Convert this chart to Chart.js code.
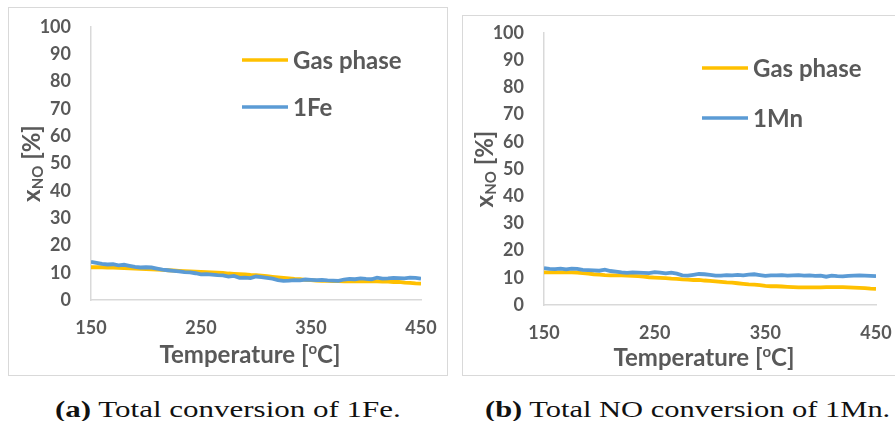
<!DOCTYPE html>
<html>
<head>
<meta charset="utf-8">
<script src="https://cdn.jsdelivr.net/npm/chart.js@4/dist/chart.umd.min.js"></script>
<style>
body { margin: 0; background: #fff; width: 895px; height: 421px; position: relative; overflow: hidden; }
.box { position: absolute; border: 1px solid #d9d9d9; box-sizing: border-box; }
#boxA { left: 8px; top: 7px; width: 440px; height: 369px; }
#boxB { left: 462px; top: 15px; width: 440px; height: 361px; }
canvas { position: absolute; }
.cap { position: absolute; top: 397px; font-family: "Liberation Serif", serif; font-size: 24px; line-height: 24px;
       color: #111; white-space: nowrap; transform-origin: 0 0; }
.cap b { font-weight: bold; }
</style>
</head>
<body>
<div class="box" id="boxA"></div>
<div class="box" id="boxB"></div>
<canvas id="chartA" width="437" height="366" style="left:9px;top:8px"></canvas>
<canvas id="chartB" width="432" height="358" style="left:463px;top:16px"></canvas>
<div class="cap" id="capA" style="left:55px"><b>(a)</b> Total conversion of 1Fe.</div>
<div class="cap" id="capB" style="left:485px"><b>(b)</b> Total NO conversion of 1Mn.</div>
<script>
// temperature [oC], sampled every 5 degrees
let temps = [150, 155, 160, 165, 170, 175, 180, 185, 190, 195,
             200, 205, 210, 215, 220, 225, 230, 235, 240, 245,
             250, 255, 260, 265, 270, 275, 280, 285, 290, 295,
             300, 305, 310, 315, 320, 325, 330, 335, 340, 345,
             350, 355, 360, 365, 370, 375, 380, 385, 390, 395,
             400, 405, 410, 415, 420, 425, 430, 435, 440, 445, 450];

// (a) gas phase vs 1Fe
let gasA = [12.0, 12.0, 12.0, 11.9, 11.9, 11.8, 11.7, 11.6, 11.5, 11.4,
            11.3, 11.2, 11.1, 11.0, 10.9, 10.8, 10.7, 10.6, 10.5, 10.4,
            10.3, 10.2, 10.1, 10.0, 9.9, 9.7, 9.6, 9.5, 9.4, 9.2,
            9.1, 8.9, 8.7, 8.5, 8.3, 8.1, 7.9, 7.7, 7.6, 7.4,
            7.3, 7.1, 7.0, 7.0, 6.9, 6.9, 6.8, 6.8, 6.8, 6.8,
            6.8, 6.8, 6.8, 6.7, 6.7, 6.6, 6.6, 6.4, 6.3, 6.1, 6.0];
let fe = [14.0, 13.6, 13.2, 13.0, 13.1, 12.7, 12.9, 12.5, 12.1, 11.9,
          12.0, 11.9, 11.5, 11.1, 10.9, 10.7, 10.5, 10.2, 10.1, 9.8,
          9.4, 9.5, 9.3, 9.1, 9.0, 8.6, 8.8, 8.1, 8.2, 8.0,
          8.6, 8.4, 8.1, 7.8, 7.3, 7.0, 7.1, 7.3, 7.2, 7.5,
          7.4, 7.3, 7.4, 7.2, 7.1, 7.0, 7.5, 7.7, 7.6, 7.9,
          7.7, 7.6, 8.2, 7.8, 7.9, 8.1, 8.0, 7.9, 8.2, 8.1, 7.8];

// (b) gas phase vs 1Mn
let gasB = [12.0, 12.0, 12.0, 12.0, 12.0, 12.0, 11.9, 11.7, 11.5, 11.3,
            11.2, 11.0, 10.9, 10.9, 10.9, 10.8, 10.7, 10.6, 10.4, 10.2,
            10.1, 10.0, 9.9, 9.7, 9.6, 9.4, 9.3, 9.2, 9.2, 9.0,
            8.9, 8.7, 8.5, 8.3, 8.2, 8.0, 7.8, 7.6, 7.5, 7.3,
            7.0, 6.9, 6.9, 6.8, 6.7, 6.6, 6.5, 6.5, 6.5, 6.5,
            6.5, 6.6, 6.6, 6.6, 6.6, 6.5, 6.4, 6.3, 6.2, 6.0, 5.9];
let mn = [13.6, 13.3, 13.2, 13.4, 13.1, 13.4, 13.3, 12.9, 12.8, 12.7,
          12.6, 13.0, 12.5, 12.3, 12.0, 11.8, 12.0, 11.9, 11.8, 11.7,
          12.1, 11.9, 11.6, 11.9, 11.5, 10.9, 10.8, 11.1, 11.4, 11.3,
          11.1, 10.8, 10.8, 11.0, 10.9, 11.1, 10.9, 11.2, 11.3, 11.0,
          10.7, 10.9, 10.9, 11.0, 10.8, 10.9, 11.0, 10.8, 10.9, 10.7,
          10.8, 10.4, 10.8, 10.6, 10.5, 10.7, 10.8, 10.9, 10.8, 10.7, 10.6];

let xTicks = [150, 250, 350, 450];
let yMin = 0, yMax = 100, yStep = 10;

const yellow = '#FFC000';
const blue = '#5B9BD5';
const grey = '#595959';
const fontFam = 'Lato, "Open Sans", sans-serif';

function pts(ys) {
    return ys.map((v, i) => ({ x: temps[i], y: v }));
}

// stretch captions to the width of the latex font
function fitCaption(id, w) {
    const el = document.getElementById(id);
    el.style.transform = 'scaleX(' + (w / el.offsetWidth) + ')';
}
fitCaption('capA', 346);
fitCaption('capB', 405);

// axis titles + legend drawn by hand (subscript / superscript)
const extras = {
    id: 'extras',
    afterDraw(chart, args, opts) {
        const ctx = chart.ctx;
        const a = chart.chartArea;
        ctx.save();
        ctx.fillStyle = grey;
        ctx.textBaseline = 'middle';

        // y title: x_NO [%]
        ctx.translate(a.left - 59, (a.top + a.bottom) / 2);
        ctx.rotate(-Math.PI / 2);
        const big = 'bold 24px ' + fontFam, small = 'bold 15px ' + fontFam;
        ctx.font = big; const w1 = ctx.measureText('x').width;
        const w3 = ctx.measureText(' [%]').width;
        ctx.font = small; const w2 = ctx.measureText('NO').width;
        let sx = -(w1 + w2 + w3) / 2;
        ctx.textAlign = 'left';
        ctx.font = big; ctx.fillText('x', sx, 0);
        ctx.font = small; ctx.fillText('NO', sx + w1, 6);
        ctx.font = big; ctx.fillText(' [%]', sx + w1 + w2, 0);
        ctx.restore();

        // x title: Temperature [oC]
        ctx.save();
        ctx.fillStyle = grey;
        ctx.textBaseline = 'middle';
        ctx.textAlign = 'left';
        const p1 = 'Temperature [', p3 = 'C]';
        ctx.font = big; const t1 = ctx.measureText(p1).width, t3 = ctx.measureText(p3).width;
        ctx.font = small; const t2 = ctx.measureText('o').width;
        let tx = (a.left + a.right) / 2 - 6 - (t1 + t2 + t3) / 2;
        const ty = a.bottom + opts.titleDy;
        ctx.font = big; ctx.fillText(p1, tx, ty);
        ctx.font = small; ctx.fillText('o', tx + t1, ty - 6);
        ctx.font = big; ctx.fillText(p3, tx + t1 + t2, ty);

        // legend
        ctx.font = 'bold 24px ' + fontFam;
        chart.data.datasets.forEach((ds, i) => {
            const ly = opts.legY + i * opts.legGap;
            ctx.strokeStyle = ds.borderColor;
            ctx.lineWidth = 3.5;
            ctx.beginPath();
            ctx.moveTo(a.right - opts.legX, ly);
            ctx.lineTo(a.right - opts.legX + 46, ly);
            ctx.stroke();
            ctx.fillText(ds.label, a.right - opts.legX + 51, ly + 1);
        });
        ctx.restore();
    }
};

function makeChart(id, gas, sample, sampleName, pad, xH, yW, extra) {
    new Chart(document.getElementById(id).getContext('2d'), {
        type: 'line',
        data: {
            datasets: [
                { label: 'Gas phase', data: pts(gas), borderColor: yellow, order: 2 },
                { label: sampleName, data: pts(sample), borderColor: blue, order: 1 }
            ]
        },
        options: {
            responsive: false,
            animation: false,
            layout: { padding: pad },
            elements: {
                line: { borderWidth: 3.8, tension: 0 },
                point: { radius: 0 }
            },
            scales: {
                x: {
                    type: 'linear', min: xTicks[0], max: xTicks[xTicks.length - 1],
                    afterBuildTicks: s => { s.ticks = xTicks.map(v => ({ value: v })); },
                    afterFit: s => { s.height = xH; s.paddingLeft = 0; s.paddingRight = 0; },
                    grid: { display: false, drawTicks: false },
                    border: { display: true, color: '#d9d9d9', width: 1.5 },
                    ticks: { padding: 17, color: grey, maxRotation: 0, font: { family: fontFam, size: 18, weight: 'bold' } }
                },
                y: {
                    min: yMin, max: yMax,
                    afterFit: s => { s.width = yW; s.paddingTop = 0; s.paddingBottom = 0; },
                    grid: { display: false, drawTicks: false },
                    border: { display: true, color: '#d9d9d9', width: 1.5 },
                    ticks: { stepSize: yStep, padding: 20, color: grey, font: { family: fontFam, size: 18, weight: 'bold' } }
                }
            },
            plugins: {
                legend: { display: false },
                tooltip: { enabled: false },
                extras: extra
            }
        },
        plugins: [extras]
    });
}

makeChart('chartA', gasA, fe, '1Fe', { left: 0, top: 19, right: 25, bottom: 0 }, 74, 82,
    { titleDy: 55, legX: 179, legY: 52, legGap: 47 });
makeChart('chartB', gasB, mn, '1Mn', { left: 0, top: 17, right: 19, bottom: 0 }, 69, 81,
    { titleDy: 53, legX: 174, legY: 52, legGap: 50 });
</script>
</body>
</html>
